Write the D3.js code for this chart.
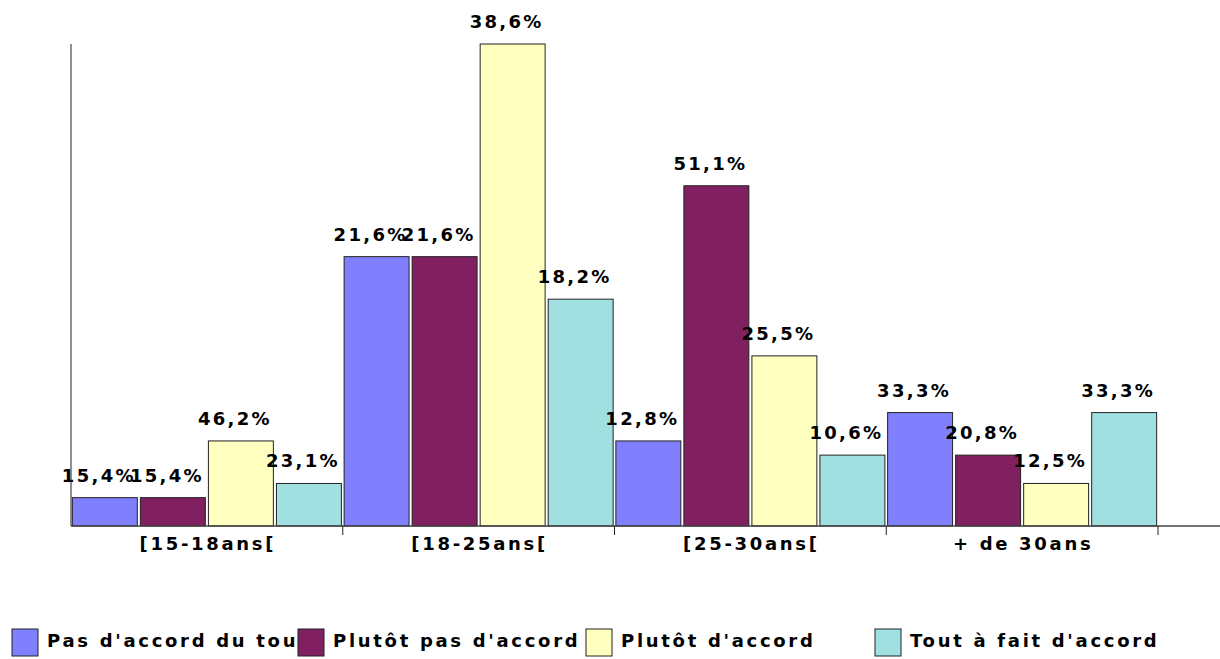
<!DOCTYPE html>
<html>
<head>
<meta charset="utf-8">
<script src="https://cdn.jsdelivr.net/npm/d3@7"></script>
<style>
  body { margin: 0; background: #fff; }
  text { font-family: "DejaVu Sans", sans-serif; font-weight: bold; font-size: 18px; }
</style>
</head>
<body>
<svg id="chart"></svg>
<script>
// age groups and answer series
let groups = ["[15-18ans[", "[18-25ans[", "[25-30ans[", "+ de 30ans"]
let seriesNames = ["Pas d'accord du tout", "Plutôt pas d'accord", "Plutôt d'accord", "Tout à fait d'accord"]
// counts per series (one value per age group) -> bar heights
let pasDuTout = [2, 19, 6, 8]
let plutotPas = [2, 19, 24, 5]
let plutotAccord = [6, 34, 12, 3]
let toutAFait = [3, 16, 5, 8]
// labels shown above the bars
let pasDuToutLbl = ["15,4%", "21,6%", "12,8%", "33,3%"]
let plutotPasLbl = ["15,4%", "21,6%", "51,1%", "20,8%"]
let plutotAccordLbl = ["46,2%", "38,6%", "25,5%", "12,5%"]
let toutAFaitLbl = ["23,1%", "18,2%", "10,6%", "33,3%"]

let colors = ["#8080ff", "#802060", "#ffffc0", "#a0e0e0"]

let series = [pasDuTout, plutotPas, plutotAccord, toutAFait]
let labels = [pasDuToutLbl, plutotPasLbl, plutotAccordLbl, toutAFaitLbl]

let W = 1220, H = 659
let svg = d3.select("#chart").attr("width", W).attr("height", H)

let plotLeft = 71, plotRight = 1158, plotTop = 44, base = 526

let x0 = d3.scaleBand().domain(groups).range([plotLeft, plotRight])
let x1 = d3.scaleBand().domain(d3.range(4)).range([0, x0.bandwidth()]).paddingInner(0.045).paddingOuter(0.02)
let y = d3.scaleLinear().domain([0, 34]).range([base, plotTop])

// bars
groups.forEach(function (g, gi) {
    series.forEach(function (s, si) {
        svg.append("rect")
            .attr("x", x0(g) + x1(si))
            .attr("y", y(s[gi]))
            .attr("width", x1.bandwidth())
            .attr("height", base - y(s[gi]))
            .attr("fill", colors[si])
            .attr("stroke", "#222")
            .attr("stroke-width", 1)
    })
})

// value labels
groups.forEach(function (g, gi) {
    series.forEach(function (s, si) {
        svg.append("text")
            .attr("x", x0(g) + x1(si) + x1.bandwidth() / 2 - 6)
            .attr("y", y(s[gi]) - 16)
            .attr("text-anchor", "middle")
            .style("letter-spacing", "2.3px")
            .text(labels[si][gi])
    })
})

// y axis line
svg.append("line").attr("x1", plotLeft).attr("x2", plotLeft).attr("y1", plotTop).attr("y2", base)
    .attr("stroke", "#222")
// baseline
svg.append("line").attr("x1", plotLeft).attr("x2", W).attr("y1", base).attr("y2", base)
    .attr("stroke", "#444").attr("stroke-width", 1.5)

// x ticks at group boundaries
groups.forEach(function (g) {
    svg.append("line").attr("x1", x0(g) + x0.bandwidth()).attr("x2", x0(g) + x0.bandwidth())
        .attr("y1", base).attr("y2", base + 9).attr("stroke", "#222")
    svg.append("text")
        .attr("x", x0(g) + x0.bandwidth() / 2 + 1)
        .attr("y", 550)
        .attr("text-anchor", "middle")
        .style("letter-spacing", "2.7px")
        .text(g)
})

// legend
let legendX = [12, 298, 586, 875]
seriesNames.forEach(function (n, i) {
    svg.append("rect").attr("x", legendX[i]).attr("y", 629).attr("width", 26).attr("height", 27)
        .attr("fill", colors[i]).attr("stroke", "#222")
    svg.append("text").attr("x", legendX[i] + 35).attr("y", 647)
        .style("letter-spacing", "2.7px")
        .text(n)
})
</script>
</body>
</html>
